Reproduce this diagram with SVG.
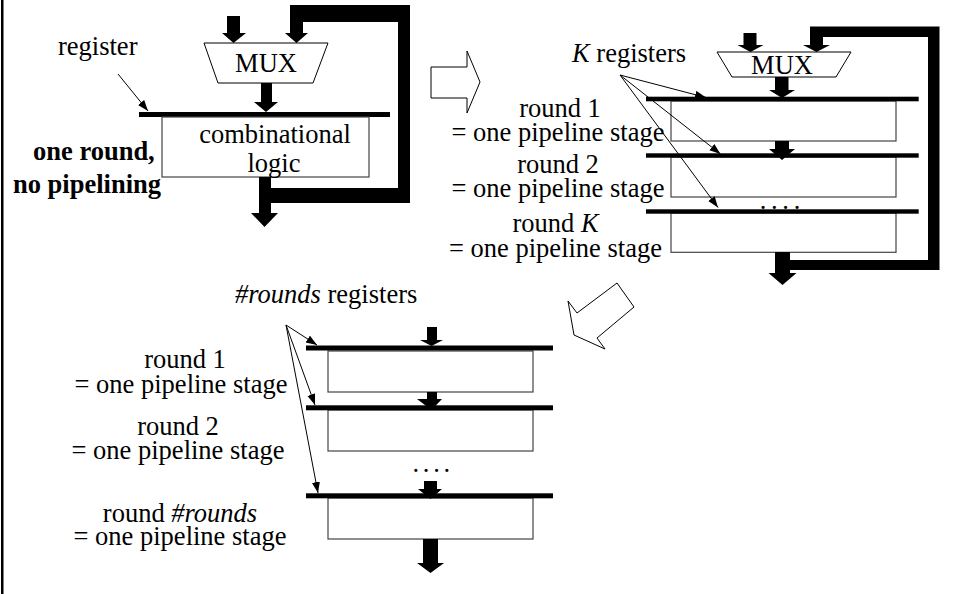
<svg xmlns="http://www.w3.org/2000/svg" width="953" height="594" viewBox="0 0 953 594">
<style>
text{font-family:"Liberation Serif","Times New Roman",serif;font-size:26.5px;fill:#000}
.b{font-weight:bold}
.i{font-style:italic}
.m{text-anchor:middle}
.box{fill:#fff;stroke:#444;stroke-width:1.2}
.mux{fill:#fff;stroke:#000;stroke-width:1}
.thick{fill:#000}
.ptr{fill:none;stroke:#000;stroke-width:1;marker-end:url(#ah)}
.hollow{fill:#fff;stroke:#000;stroke-width:1}
</style>
<defs>
<marker id="ah" markerUnits="userSpaceOnUse" markerWidth="12" markerHeight="10" refX="11" refY="4" orient="auto">
<path d="M0,0 L11,4 L0,8 z" fill="#000"/>
</marker>
</defs>
<rect width="953" height="594" fill="#fff"/>
<rect x="1" y="0" width="2.5" height="594" fill="#000"/>

<!-- Diagram 1: one round, no pipelining -->
<g id="d1-mux">
<polygon class="mux" points="204,43 328,43 313,83 218,83"/>
<text class="m" x="266" y="72">MUX</text>
</g>
<g id="d1-register">
<rect x="139" y="112" width="251" height="5" fill="#000"/>
<text x="58" y="55">register</text>
</g>
<g id="d1-logic">
<rect class="box" x="162" y="117" width="207" height="60"/>
<text class="m" x="275" y="143">combinational</text>
<text class="m" x="274" y="172">logic</text>
</g>
<g id="d1-label">
<text class="b" x="33" y="160">one round,</text>
<text class="b" x="13" y="193">no pipelining</text>
</g>

<!-- Diagram 2: K registers -->
<g id="d2-mux">
<polygon class="mux" points="717,52 851,52 836,77 732,77"/>
<text class="m" x="782" y="73.5">MUX</text>
</g>
<g id="d2-stage1">
<rect class="box" x="671" y="101" width="225" height="40"/>
<rect x="646" y="96.7" width="272.7" height="4.6" fill="#000"/>
<text class="m" x="560" y="117">round 1</text>
<text class="m" x="558" y="141">= one pipeline stage</text>
</g>
<g id="d2-stage2">
<rect class="box" x="671" y="157" width="225" height="40"/>
<text class="m" x="558" y="173">round 2</text>
<text class="m" x="558" y="197">= one pipeline stage</text>
</g>
<g id="d2-stageK">
<rect class="box" x="671" y="213" width="225" height="39.3"/>
<text class="m" x="555.5" y="232">round <tspan class="i">K</tspan></text>
<text class="m" x="555.5" y="257">= one pipeline stage</text>
</g>
<g id="d2-label">
<text x="572" y="62"><tspan class="i">K</tspan> registers</text>
</g>

<!-- Diagram 3: #rounds registers -->
<g id="d3-stage1">
<rect class="box" x="328" y="351" width="205" height="41"/>
<text class="m" x="185" y="368">round 1</text>
<text class="m" x="181" y="393">= one pipeline stage</text>
</g>
<g id="d3-stage2">
<rect class="box" x="328" y="410" width="205" height="41"/>
<text class="m" x="178" y="435">round 2</text>
<text class="m" x="178" y="459">= one pipeline stage</text>
</g>
<g id="d3-stageN">
<rect class="box" x="328" y="498" width="205" height="41"/>
<text class="m" x="180" y="522">round <tspan class="i">#rounds</tspan></text>
<text class="m" x="180" y="545">= one pipeline stage</text>
</g>
<g id="d3-label">
<text x="235" y="303"><tspan class="i">#rounds</tspan> registers</text>
</g>

<!-- transition arrows -->
<g id="trans1">
<polygon class="hollow" points="431,67 467,67 467,51 480,82 467,113 467,98 431,98"/>
</g>
<g id="trans2">
<polygon class="hollow" points="574,335 568,301 577,313 617,283 634,307 597,338 605,349"/>
</g>

<g id="connectors">
<!-- diagram 1 -->
<polygon class="thick" points="227,16 240,16 240,33 246,33 233.5,43 222,33 227,33"/>
<polygon class="thick" points="261,83 272,83 272,102 278,102 266,112 254,102 261,102"/>
<polygon class="thick" points="259,177 271,177 271,213 278,213 264.5,227 251,213 259,213"/>
<polygon class="thick" points="271,188 398,188 398,22 303,22 303,33 308,33 296.5,43 285,33 290,33 290,5 410,5 410,203 271,203"/>
<line class="ptr" x1="118" y1="74" x2="148" y2="111"/>
<!-- diagram 2 -->
<polygon class="thick" points="743.5,33 756.5,33 756.5,45 763.5,45 750.5,52 737.5,45 743.5,45"/>
<polygon class="thick" points="790,260 928,260 928,37 823,37 823,45 830,45 816.5,52 803,45 810,45 810,26.5 939.5,26.5 939.5,270 790,270"/>
<polygon class="thick" points="775,77 788.5,77 788.5,90 795,90 782,98 769,90 775,90"/>
<polygon class="thick" points="775,141 789,141 789,149 795,149 782,160 769,149 775,149"/>
<rect x="646" y="153.3" width="272.7" height="4.4" fill="#000"/>
<text x="759.7" y="208.5" letter-spacing="4.7">....</text>
<rect x="646" y="209.3" width="272.7" height="4.4" fill="#000"/>
<polygon class="thick" points="775,252 790,252 790,273 796.5,273 782.5,285 768.5,273 775,273"/>
<line class="ptr" x1="620" y1="75" x2="706" y2="97.5"/>
<line class="ptr" x1="620" y1="75" x2="720.5" y2="154"/>
<line class="ptr" x1="620" y1="75" x2="718" y2="207.5"/>
<!-- diagram 3 -->
<polygon class="thick" points="427,327 437,327 437,340 443,340 431.5,346 420,340 427,340"/>
<rect x="306" y="345.5" width="247" height="5" fill="#000"/>
<polygon class="thick" points="427,392 437,392 437,399 442,399 431.5,410 417,399 427,399"/>
<rect x="306" y="405.3" width="247" height="5" fill="#000"/>
<text x="412.5" y="471.5" letter-spacing="3.7">....</text>
<polygon class="thick" points="424,481 437,481 437,489 442,489 430.5,499 418,489 424,489"/>
<rect x="306" y="493.3" width="247" height="5" fill="#000"/>
<polygon class="thick" points="423,539 438,539 438,563 444,563 430.5,573 417,563 423,563"/>
<line class="ptr" x1="286" y1="325" x2="317" y2="345"/>
<line class="ptr" x1="286" y1="325" x2="315" y2="405"/>
<line class="ptr" x1="286" y1="325" x2="318" y2="493"/>
</g>
</svg>
